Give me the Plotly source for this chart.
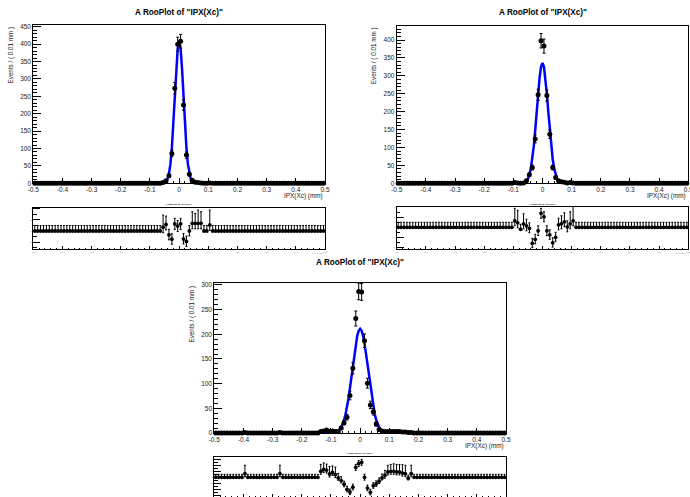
import plotly.graph_objects as go

W, H = 690, 497
FONT = "Liberation Sans, Arial, sans-serif"
TITLE = 'A RooPlot of "IPX(Xc)"'
XTITLE = "IPX(Xc) (mm)"
YTITLE = "Events / ( 0.01 mm )"

# ---------------- data ----------------
N_BINS = 100
bin_centers = [round(-0.495 + 0.01 * i, 3) for i in range(N_BINS)]

xtick_vals = [-0.5, -0.4, -0.3, -0.2, -0.1, 0.0, 0.1, 0.2, 0.3, 0.4, 0.5]
xtick_text = ["-0.5", "-0.4", "-0.3", "-0.2", "-0.1", "0", "0.1", "0.2", "0.3", "0.4", "0.5"]

# panel 1 (top left): bins 44..60 non-empty
start1 = 44
counts1_core = [2, 7, 22, 86, 273, 400, 408, 225, 81, 26, 9, 3, 2, 1, 0, 0, 1]
err1_core = [1.5, 2.6, 4.7, 9.3, 16.5, 20, 20, 15, 9, 5.1, 3, 1.7, 1.5, 1.2, 0, 0, 1.2]
pull1_core = [0.7, 1.2, -0.7, -1.5, 1.3, 0.9, 1.3, -1.45, -1.9, 0.0, 1.4, 1.4, 1.4, 1.4, 0.0, 0.0, 1.1]
pull1_up = [2.2, 1.5, 1.0, 1.0, 1.0, 1.0, 1.0, 1.0, 1.0, 1.0, 2.1, 1.8, 2.4, 2.1, 1.0, 1.0, 2.7]
pull1_dn = [1.0, 1.0, 0.9, 0.9, 1.0, 1.0, 1.0, 0.9, 0.9, 0.9, 1.0, 1.0, 1.0, 1.0, 0.0, 0.0, 1.0]

# panel 2 (top right): bins 40..60
start2 = 40
counts2_core = [2, 1, 0, 1, 7, 24, 44, 124, 247, 398, 383, 245, 137, 44, 16, 7, 4, 3, 1, 2, 1]
err2_core = [1.4, 1, 0, 1, 2.6, 4.9, 6.6, 11, 15.7, 20, 19.6, 15.7, 11.7, 6.6, 4, 2.6, 2, 1.7, 1, 1.4, 1]
pull2_core = [1.3, 0.9, -0.4, 0.7, 0.3, -0.2, -3.2, -2.4, -0.7, 2.8, 2.1, -0.7, -1.5, -3.1, -2.0, 0.5, 0.7, 1.1, 0.1, 0.7, 1.3]
pull2_up = [2.5, 2.5, 1.0, 2.0, 1.3, 1.1, 1.0, 1.0, 1.0, 1.0, 1.0, 1.0, 1.0, 1.0, 1.0, 1.3, 1.6, 1.8, 1.2, 2.4, 2.8]
pull2_dn = [1.0, 1.0, 0.0, 1.0, 1.0, 0.9, 0.85, 0.9, 0.95, 1.0, 1.0, 0.95, 0.9, 0.85, 0.8, 1.0, 1.0, 1.0, 1.0, 1.0, 1.0]

# panel 3 (bottom): bins 36..67, plus single events in bins 10 and 22
start3 = 36
counts3_core = [3, 4, 6, 3, 4, 3, 3, 10, 21, 32, 76, 131, 232, 287, 286, 187, 101, 57, 43, 18,
                7, 4, 3, 3, 3, 3, 3, 3, 2, 2, 1, 1]
err3_core = [1.7, 2, 2.4, 1.7, 2, 1.7, 1.7, 3.2, 4.6, 5.7, 8.7, 11.4, 15.2, 17, 17, 13.7, 10, 7.5, 6.6, 4.2,
             2.6, 2, 1.7, 1.7, 1.7, 1.7, 1.7, 1.7, 1.4, 1.4, 1, 1]
pull3_core = [2.0, 2.6, 2.4, 1.1, 1.6, 0.9, -0.2, -1.1, -2.3, -4.0, -4.9, -3.3, 3.3, 4.6, 5.0, 0.0,
              -3.6, -5.0, -2.8, -2.2, -1.3, -0.2, 0.7, 1.8, 2.0, 2.0, 1.8, 1.8, 1.4, 1.2, -0.3, 1.2]
pull3_up = [2.3, 2.2, 2.0, 2.5, 2.2, 2.5, 1.5, 1.3, 1.0, 1.0, 1.0, 1.0, 1.0, 1.0, 1.0, 1.0,
            1.0, 1.0, 1.0, 1.0, 1.1, 1.3, 1.6, 2.2, 2.3, 2.5, 2.5, 2.5, 2.8, 2.8, 1.0, 2.8]
pull3_dn = [1.0, 1.0, 1.0, 1.0, 1.0, 1.0, 0.8, 0.8, 0.85, 0.85, 0.85, 0.9, 1.0, 1.0, 1.0, 0.95,
            0.9, 0.85, 0.85, 0.8, 0.75, 0.7, 1.0, 1.0, 1.0, 1.0, 1.0, 1.0, 1.0, 1.0, 0.6, 1.0]
single_bins3 = [10, 22]
single_count3 = 1
single_pull3 = 1.2
single_pull3_up = 2.8

# empty bins: Poisson upper error of zero counts, pull error up to +1
zero_err_up = 1.15
zero_pull_up = 1.0

# fitted curves
curve_x = [-0.5, -0.12, -0.11, -0.1, -0.09, -0.08, -0.075, -0.07, -0.065, -0.06, -0.055, -0.05, -0.045,
           -0.04, -0.035, -0.03, -0.025, -0.02, -0.015, -0.01, -0.005, 0.0, 0.005, 0.01, 0.015, 0.02,
           0.025, 0.03, 0.035, 0.04, 0.045, 0.05, 0.055, 0.06, 0.065, 0.07, 0.075, 0.08, 0.09, 0.1,
           0.11, 0.12, 0.5]
curve1_y = [0, 0, 0, 0, 0, 0, 0, 0.05, 0.2, 0.5, 1.0, 1.9, 4.6, 11.7, 27, 55, 102, 169, 249, 328, 388, 410,
            388, 328, 249, 169, 102, 55, 27, 11.7, 4.6, 1.9, 1.0, 0.5, 0.2, 0.05, 0, 0, 0, 0, 0, 0, 0]
curve2_y = [0, 0, 0, 0, 0, 0.07, 0.2, 0.5, 1.3, 2.9, 6.3, 12.5, 23.4, 41, 67, 103, 148, 199, 250, 295, 325, 336,
            325, 295, 250, 199, 148, 103, 67, 41, 23.4, 12.5, 6.3, 2.9, 1.3, 0.5, 0.2, 0.07, 0, 0, 0, 0, 0]
curve3_y = [0, 0, 0.04, 0.2, 0.8, 2.6, 4.5, 7.3, 11.6, 17.9, 26.5, 38, 53, 70, 91, 114, 137, 160, 181, 197, 207, 211,
            207, 197, 181, 160, 137, 114, 91, 70, 53, 38, 26.5, 17.9, 11.6, 7.3, 4.5, 2.6, 0.8, 0.2, 0.04, 0, 0]


def full(core, start, fill):
    out = [fill] * N_BINS
    for k, v in enumerate(core):
        out[start + k] = v
    return out


def build(counts_core, err_core, pull_core, p_up, p_dn, start):
    counts = full(counts_core, start, 0)
    e_up = full(err_core, start, zero_err_up)
    e_dn = full(err_core, start, 0)
    pulls = full(pull_core, start, 0.0)
    pu = full(p_up, start, zero_pull_up)
    pd = full(p_dn, start, 0.0)
    return counts, e_up, e_dn, pulls, pu, pd


P1 = build(counts1_core, err1_core, pull1_core, pull1_up, pull1_dn, start1)
P2 = build(counts2_core, err2_core, pull2_core, pull2_up, pull2_dn, start2)
P3 = build(counts3_core, err3_core, pull3_core, pull3_up, pull3_dn, start3)
for b in single_bins3:
    P3[0][b] = single_count3
    P3[1][b] = 1.0
    P3[2][b] = 0.83
    P3[3][b] = single_pull3
    P3[4][b] = single_pull3_up
    P3[5][b] = 1.0


# ---------------- layout helpers ----------------
def px_x(px):
    return px / W


def px_y(py):
    return 1 - py / H


panels = [
    dict(l=33.3, r=325.0, mt=25.0, mb=183.3, rt=207.5, rb=249.0, ymax=455, rr=[-3.27, 4.27],
         curve=curve1_y, data=P1, ytx=10.0, ttl_y=12.5, rttl_y=205.0),
    dict(l=396.7, r=688.3, mt=25.7, mb=183.3, rt=207.3, rb=249.0, ymax=440, rr=[-4.34, 4.0],
         curve=curve2_y, data=P2, ytx=374.0, ttl_y=13.0, rttl_y=205.0),
    dict(l=214.3, r=506.0, mt=283.0, mb=433.0, rt=457.3, rb=497.0, ymax=304, rr=[-6.57, 6.67],
         curve=curve3_y, data=P3, ytx=191.0, ttl_y=262.0, rttl_y=453.0),
]

fig = go.Figure()
layout = dict(width=W, height=H, margin=dict(l=0, r=0, t=0, b=0, autoexpand=False), showlegend=False,
              paper_bgcolor="white", plot_bgcolor="white", font=dict(family=FONT))
annotations = []

for i, p in enumerate(panels):
    a_main = 2 * i + 1
    a_res = 2 * i + 2
    xm = "x" if a_main == 1 else f"x{a_main}"
    ym = "y" if a_main == 1 else f"y{a_main}"
    xr = f"x{a_res}"
    yr = f"y{a_res}"
    xdom = [px_x(p["l"]), px_x(p["r"])]

    counts, e_up, e_dn, pulls, pu, pd = p["data"]

    fig.add_trace(go.Scatter(x=curve_x, y=p["curve"], mode="lines",
                             line=dict(color="#0000ff", width=2.5), xaxis=xm, yaxis=ym,
                             hoverinfo="skip"))
    fig.add_trace(go.Scatter(x=bin_centers, y=counts, mode="markers",
                             marker=dict(color="black", size=5),
                             error_y=dict(type="data", symmetric=False, array=e_up, arrayminus=e_dn,
                                          color="black", thickness=1, width=1.5),
                             cliponaxis=False, xaxis=xm, yaxis=ym))
    fig.add_trace(go.Scatter(x=bin_centers, y=pulls, mode="markers",
                             marker=dict(color="black", size=3.8),
                             error_y=dict(type="data", symmetric=False, array=pu, arrayminus=pd,
                                          color="black", thickness=1, width=1),
                             cliponaxis=False, xaxis=xr, yaxis=yr))

    common = dict(showline=True, mirror=True, linecolor="black", linewidth=1, showgrid=False,
                  zeroline=False, ticks="inside", tickcolor="black", tickwidth=1, automargin=False)
    layout["xaxis" if a_main == 1 else f"xaxis{a_main}"] = dict(
        common, domain=xdom, anchor=ym, range=[-0.5, 0.5], tickmode="array",
        tickvals=xtick_vals, ticktext=xtick_text, ticklen=5, ticklabeloverflow="allow",
        tickfont=dict(size=6.5, color="#222", family=FONT),
        minor=dict(ticks="inside", ticklen=2.5, tickmode="linear", tick0=-0.5, dtick=0.02,
                   tickcolor="black", showgrid=False))
    layout["yaxis" if a_main == 1 else f"yaxis{a_main}"] = dict(
        common, domain=[px_y(p["mb"]), px_y(p["mt"])], anchor=xm, range=[0, p["ymax"]],
        tickmode="linear", tick0=0, dtick=50, ticklen=8,
        tickfont=dict(size=6.5, color="#222", family=FONT),
        minor=dict(ticks="inside", ticklen=4, tickmode="linear", tick0=0, dtick=10,
                   tickcolor="black", showgrid=False))
    layout[f"xaxis{a_res}"] = dict(
        common, domain=xdom, anchor=yr, range=[-0.5, 0.5], tickmode="array",
        tickvals=xtick_vals, ticktext=xtick_text, ticklen=3, ticklabeloverflow="allow",
        tickfont=dict(size=2.5, color="#777", family=FONT),
        minor=dict(ticks="inside", ticklen=1.5, tickmode="linear", tick0=-0.5, dtick=0.02,
                   tickcolor="black", showgrid=False))
    layout[f"yaxis{a_res}"] = dict(
        common, domain=[max(0.0, px_y(p["rb"])), px_y(p["rt"])], anchor=xr, range=p["rr"],
        tickmode="linear", tick0=0, dtick=2, ticklen=7,
        tickfont=dict(size=2.5, color="#777", family=FONT),
        minor=dict(ticks="inside", ticklen=3.5, tickmode="linear", tick0=0, dtick=1,
                   tickcolor="black", showgrid=False))

    cx = (p["l"] + p["r"]) / 2
    annotations.append(dict(x=px_x(cx), y=px_y(p["ttl_y"]), xref="paper", yref="paper",
                            text=f"<b>{TITLE}</b>", showarrow=False, xanchor="center",
                            yanchor="middle", font=dict(size=8.2, color="black", family=FONT)))
    annotations.append(dict(x=px_x(p["r"]), y=px_y(p["mb"] + 13), xref="paper", yref="paper",
                            text=XTITLE, showarrow=False, xanchor="right", yanchor="middle",
                            font=dict(size=6.4, color="#222", family=FONT)))
    annotations.append(dict(x=px_x(p["ytx"]), y=px_y(p["mt"]), xref="paper", yref="paper",
                            text=YTITLE, showarrow=False, textangle=-90, xanchor="center",
                            yanchor="top", font=dict(size=6.3, color="#222", family=FONT)))
    annotations.append(dict(x=px_x(cx), y=px_y(p["rttl_y"]), xref="paper", yref="paper",
                            text=f"<b>{TITLE}</b>", showarrow=False, xanchor="center",
                            yanchor="middle", font=dict(size=2.5, color="black", family=FONT)))
    annotations.append(dict(x=px_x(p["r"]), y=px_y(p["rb"] + 3.5), xref="paper", yref="paper",
                            text=XTITLE, showarrow=False, xanchor="right", yanchor="middle",
                            font=dict(size=1.8, color="#777", family=FONT)))

layout["annotations"] = annotations
fig.update_layout(**layout)
fig.write_html(
    "out.html",
    config={"displayModeBar": False, "staticPlot": True},
    post_script="document.body.style.margin='0';document.body.style.padding='0';"
                "document.body.style.overflow='hidden';",
)
